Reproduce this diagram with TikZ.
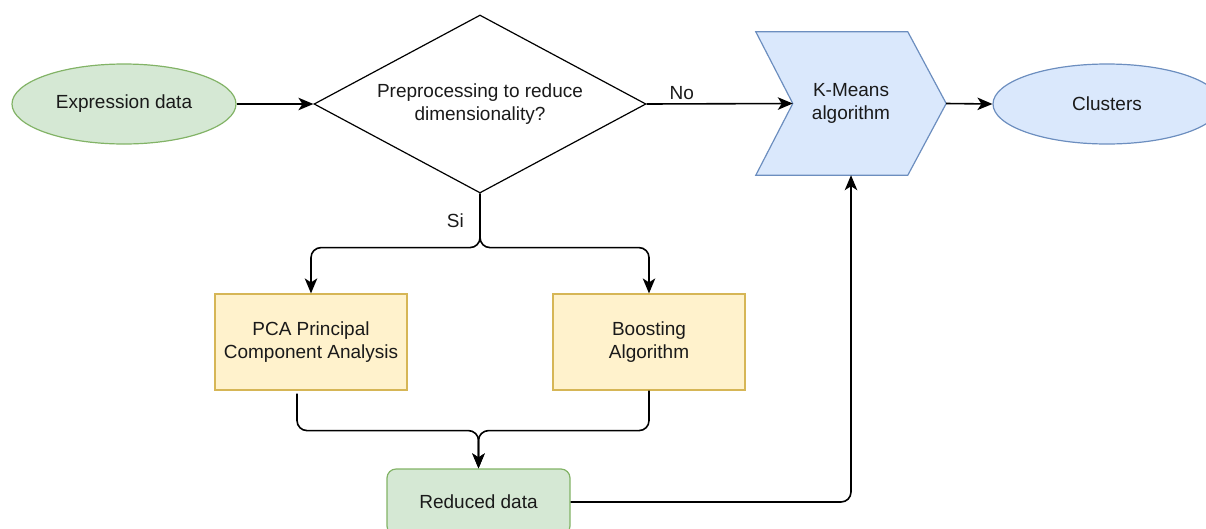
\documentclass[tikz,border=0pt]{standalone}
\usepackage{fontspec}
\setmainfont{Liberation Sans}
\usetikzlibrary{shapes.geometric,arrows.meta,backgrounds}
\definecolor{gfill}{HTML}{D5E8D4}
\definecolor{gline}{HTML}{82B366}
\definecolor{yfill}{HTML}{FFF2CC}
\definecolor{yline}{HTML}{D6B656}
\definecolor{bfill}{HTML}{DAE8FC}
\definecolor{bline}{HTML}{6C8EBF}
\definecolor{txt}{HTML}{1A1A1A}
\begin{document}
\begin{tikzpicture}[x=1pt,y=-1pt,
  font=\fontsize{19}{22.5}\selectfont, text=txt,
  arr/.style={draw=black, line width=1.6pt, -{Stealth[length=15pt,width=12.5pt,inset=4pt]}, rounded corners=10pt},
  greenell/.style={ellipse, draw=gline, fill=gfill, line width=1.2pt, inner sep=0pt},
  blueell/.style={ellipse, draw=bline, fill=bfill, line width=1.2pt, inner sep=0pt},
  yelbox/.style={rectangle, draw=yline, fill=yfill, line width=1.2pt, inner sep=0pt, minimum width=192pt, minimum height=96pt, align=center},
  greenbox/.style={rectangle, rounded corners=9pt, draw=gline, fill=gfill, line width=1.2pt, inner sep=0pt, minimum width=183pt, minimum height=66pt, align=center},
  decision/.style={diamond, draw=black, fill=white, line width=1.2pt, inner sep=0pt, shape aspect=1.87, minimum width=332pt, minimum height=178pt, align=center},
  chevbox/.style={rectangle, inner sep=0pt, minimum width=190pt, minimum height=143pt, align=center}
]
\useasboundingbox (0,0) rectangle (1206,528);
\clip (0,0) rectangle (1206,528);

\node[greenell, minimum width=224pt, minimum height=80pt] (ed) at (124,104) {Expression data};
\node[decision] (dia) at (480,104) {Preprocessing to reduce\\dimensionality?};
\node[chevbox] (km) at (851,103.5) {K-Means\\algorithm};
\begin{scope}[on background layer]
  \path[draw=bline, fill=bfill, line width=1.2pt, line join=miter]
    (km.north west) -- ([xshift=152pt]km.north west) -- (km.east)
    -- ([xshift=152pt]km.south west) -- (km.south west)
    -- ([xshift=37pt]km.west) -- cycle;
\end{scope}
\node[blueell, minimum width=228pt, minimum height=80pt] (cl) at (1107,104) {Clusters};
\node[yelbox] (pca) at (311,342) {PCA Principal\\Component Analysis};
\node[yelbox] (boost) at (649,342) {Boosting\\Algorithm};
\node[greenbox] (red) at (478.5,502) {Reduced data};

\draw[arr] (ed.east) -- (dia.west);
\draw[arr] (dia.east) -- node[above, pos=0.24]{No} ([xshift=37pt]km.west);
\draw[arr] (km.east) -- (cl.west);
\draw[arr] (dia.south) -- node[left=12pt]{Si} ++(0,54) -| (pca.north);
\draw[arr] (dia.south) -- ++(0,54) -| (boost.north);
\draw[arr] ([xshift=-14pt, yshift=-3pt]pca.south) -- ++(0,37) -| (red.north);
\draw[arr] (boost.south) -- ++(0,40) -| (red.north);
\draw[arr] (red.east) -| (km.south);
\end{tikzpicture}
\end{document}
